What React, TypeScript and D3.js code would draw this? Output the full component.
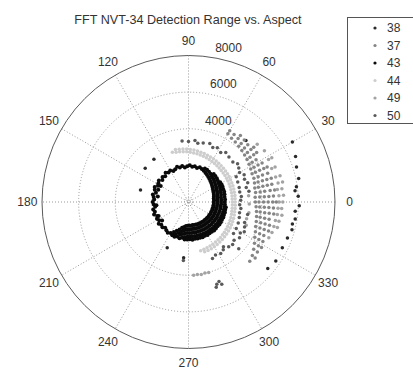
import React from 'react';
import * as d3 from 'd3';

// polar scatter, angle in degrees (0 = right, counter-clockwise), range in yards
// rows are [angle, range, range, ...]
const s38Rows = [
  [30, 6550], [23, 6350], [18, 6200], [12, 6150], [8, 5950], [6, 5850], [3, 6000],
  [-2, 6050], [-5, 5850], [-9, 5900], [-12, 5800], [-15, 5850], [-20, 5750],
  [-26, 5700], [-34, 5750], [-40, 5650], [129, 3000], [142, 3000], [166, 2700],
  [-115, 2750], [-95, 3050], [47, 4600],
];

const s37Rows = [
  [60, 4300, 4500], [56, 4200, 4450], [52, 4150, 4400, 4600], [48, 4100, 4300, 4550],
  [44, 4050, 4250, 4500], [40, 4000, 4200, 4450, 4650], [36, 3950, 4150, 4400, 4600],
  [32, 3900, 4100, 4350], [28, 3850, 4050, 4300, 4550], [24, 3800, 4000, 4250, 4500, 4700],
  [20, 3800, 4050, 4300, 4600], [16, 3750, 3950, 4200, 4450, 4700],
  [12, 3700, 3900, 4150, 4400, 4650], [8, 3700, 3950, 4200, 4500, 4750],
  [4, 3650, 3900, 4150, 4400, 4650], [0, 3650, 3850, 4100, 4350, 4600, 4800],
  [-4, 3700, 3900, 4150, 4400, 4650], [-8, 3750, 3950, 4200, 4450, 4700],
  [-12, 3800, 4000, 4250, 4500], [-16, 3850, 4100, 4350, 4600], [-20, 3900, 4150, 4400, 4650],
  [-24, 4000, 4250, 4500], [-28, 4100, 4350, 4600], [-32, 4250, 4500, 4700],
  [-36, 4400, 4650], [-40, 4550, 4750], [-44, 4650],
];

const s43Rows = [
  [68, 1950], [72, 2000], [76, 1920], [80, 1980], [84, 1940], [88, 2010], [92, 1960],
  [96, 1900], [100, 1990], [104, 1940], [108, 2020], [112, 1930], [116, 1880],
  [120, 1990], [124, 1950], [128, 2030], [132, 1900], [136, 1970], [140, 1860],
  [144, 2000], [148, 1940], [150, 1750], [152, 1890], [156, 2020], [158, 1780],
  [160, 1960], [164, 1850], [168, 1990], [170, 1700], [172, 1920], [176, 1880],
  [180, 1960], [184, 1900], [186, 1760], [188, 1840], [192, 1970], [196, 1910],
  [200, 2000], [204, 1870], [205, 1800], [208, 1950], [212, 1890], [215, 1760],
  [216, 2010], [220, 1940], [224, 1980], [228, 1900], [232, 1960], [236, 2030],
  [240, 1950], [244, 1990],
  [-116, 1820, 2020], [-112, 1700, 1880, 2040], [-108, 1580, 1780, 1980],
  [-104, 1450, 1650, 1850, 2040], [-100, 1380, 1580, 1780, 1980],
  [-96, 1320, 1520, 1720, 1920, 2060], [-92, 1300, 1500, 1700, 1900, 2050],
  [-88, 1290, 1490, 1690, 1890, 2040], [-84, 1300, 1500, 1700, 1900, 2070],
  [-80, 1280, 1480, 1680, 1880, 2040], [-76, 1300, 1500, 1700, 1900, 2060],
  [-72, 1290, 1490, 1690, 1890, 2050], [-68, 1310, 1510, 1710, 1910, 2070],
  [-64, 1300, 1500, 1700, 1900, 2050], [-60, 1320, 1520, 1720, 1920, 2080],
  [-56, 1310, 1510, 1710, 1910, 2060], [-52, 1330, 1530, 1730, 1930, 2070],
  [-48, 1320, 1520, 1720, 1920, 2090], [-44, 1340, 1540, 1740, 1940, 2080],
  [-40, 1330, 1530, 1730, 1930, 2070], [-36, 1350, 1550, 1750, 1950, 2090],
  [-32, 1340, 1540, 1740, 1940, 2080], [-28, 1360, 1560, 1760, 1960, 2070],
  [-24, 1350, 1550, 1750, 1950, 2080], [-20, 1370, 1570, 1770, 1970, 2060],
  [-16, 1360, 1560, 1760, 1960, 2070], [-12, 1380, 1580, 1780, 1980, 2050],
  [-8, 1370, 1570, 1770, 1970, 2060], [-4, 1390, 1590, 1790, 1990],
  [0, 1380, 1580, 1780, 1980], [4, 1400, 1600, 1800, 2000], [8, 1390, 1590, 1790, 1990],
  [12, 1420, 1620, 1820, 2010], [16, 1440, 1640, 1840, 2030], [20, 1460, 1660, 1860, 2020],
  [24, 1480, 1680, 1880, 2040], [28, 1510, 1710, 1910, 2050], [32, 1540, 1740, 1940, 2040],
  [36, 1580, 1780, 1980], [40, 1620, 1820, 2020], [44, 1660, 1860, 2040],
  [48, 1700, 1900, 2060], [52, 1750, 1950], [56, 1800, 2000], [60, 1850, 2030],
  [64, 1900, 2040],
];

const s44Rows = [
  [108, 2850], [104, 2800, 2950], [100, 2780, 2930], [96, 2760, 2910], [92, 2740, 2890],
  [88, 2720, 2870], [84, 2690, 2850], [80, 2670, 2830], [76, 2640, 2800],
  [72, 2620, 2780], [68, 2600, 2760], [64, 2580, 2740], [60, 2560, 2720],
  [56, 2540, 2700], [52, 2520, 2680], [48, 2500, 2660], [44, 2480, 2650],
  [40, 2470, 2640], [36, 2460, 2630], [32, 2450, 2620], [28, 2440, 2600],
  [24, 2430, 2590], [20, 2420, 2580], [16, 2410, 2570], [12, 2400, 2560],
  [8, 2400, 2560], [4, 2390, 2550], [0, 2400, 2550], [-4, 2400, 2560],
  [-8, 2410, 2570], [-12, 2420, 2580], [-16, 2440, 2600], [-20, 2460, 2620],
  [-24, 2480, 2640], [-28, 2500, 2660], [-32, 2520, 2680], [-36, 2540, 2700],
  [-40, 2560, 2720], [-44, 2580, 2740], [-48, 2600, 2760], [-52, 2620, 2780],
  [-56, 2640, 2800], [-60, 2660, 2820], [-64, 2680, 2840], [-68, 2700, 2850],
  [-72, 2720, 2860], [-76, 2750],
];

const s49Rows = [
  [40, 4900], [34, 5000], [28, 4950, 5150], [22, 4900, 5100], [16, 4950, 5200],
  [12, 5000, 5250], [8, 4900, 5150], [4, 4950, 5200], [0, 4950, 5150], [-4, 4900, 5100],
  [-8, 4900, 5150], [-12, 4850, 5050], [-16, 4850, 5050], [-20, 4850], [-24, 4800],
  [6, 3300], [-2, 3320], [-10, 3350], [-16, 3300], [-22, 3400],
  [-74, 4000], [-77, 3980], [-80, 4020], [-83, 3990], [-86, 4010],
];

const s50Rows = [
  [96, 3350], [90, 3300], [84, 3380], [81, 3250], [76, 3320], [70, 3400], [66, 3260],
  [62, 3350], [57, 3230], [53, 3380], [48, 3300], [42, 3260], [38, 3400], [34, 3310],
  [30, 3220], [26, 3380], [22, 3300], [18, 3400], [14, 3250], [10, 3350],
  [-12, 3300], [-20, 3260], [-24, 3350], [-28, 3450], [-31, 3300], [-35, 3400],
  [-40, 3250], [-43, 3750], [-44, 3350], [-48, 3280], [-52, 3100], [-54, 3230],
  [-58, 3320], [-63, 3250], [-67, 3350], [-69, 4650], [-71, 4750], [-68, 4850],
  [-72, 4900], [-95, 3200],
  [28, 2950], [22, 2900], [16, 2880], [11, 2850], [6, 2900], [2, 2850], [-3, 2800],
  [-7, 2880], [-12, 2850], [-17, 2900], [-23, 2950], [-29, 2980], [-35, 3000],
];

const seriesNames = ['38', '37', '43', '44', '49', '50'];
const seriesColors = ['#2a2a2a', '#858585', '#0a0a0a', '#cdcdcd', '#a3a3a3', '#5a5a5a'];
const seriesRows = [s38Rows, s37Rows, s43Rows, s44Rows, s49Rows, s50Rows];

const rangeTicks = [2000, 4000, 6000, 8000];
const rangeLabels = [4000, 6000, 8000];
const angleTicks = [0, 30, 60, 90, 120, 150, 180, 210, 240, 270, 300, 330];

const cx = 188.5;
const cy = 202;
const rMax = 146.5;
const font = '"Liberation Sans", Arial, sans-serif';

const App = () => {
  const r = d3.scaleLinear().domain([0, 8000]).range([0, rMax]);
  const rad = (deg: number) => (deg * Math.PI) / 180;
  const px = (a: number, v: number) => cx + r(v) * Math.cos(rad(a));
  const py = (a: number, v: number) => cy - r(v) * Math.sin(rad(a));

  const series = seriesRows.map((rows) =>
    rows.flatMap(([a, ...vals]) => vals.map((v) => [a, v]))
  );

  return (
    <svg width={413} height={370} style={{ position: 'absolute', left: 0, top: 0, background: '#fff' }}
      fontFamily={font}>
      <text x={188} y={24} textAnchor="middle" fontSize={12.6} fill="#333">
        FFT NVT-34 Detection Range vs. Aspect
      </text>

      {/* grid */}
      <circle cx={cx} cy={cy} r={4} fill="none" stroke="#999" strokeDasharray="1,2" />
      {rangeTicks.slice(0, -1).map((t) => (
        <circle key={t} cx={cx} cy={cy} r={r(t)} fill="none" stroke="#999" strokeDasharray="1,2" />
      ))}
      {angleTicks.slice(0, 6).map((a) => (
        <line key={a} x1={px(a, 8000)} y1={py(a, 8000)} x2={px(a + 180, 8000)} y2={py(a + 180, 8000)}
          stroke="#999" strokeDasharray="1,2" />
      ))}
      <circle cx={cx} cy={cy} r={rMax} fill="none" stroke="#5a5a5a" strokeWidth={1} />

      {angleTicks.map((a) => (
        <text key={a} x={px(a, 8000 * 1.1)} y={py(a, 8000 * 1.1)} textAnchor="middle"
          dominantBaseline="central" fontSize={12} fill="#333">{a}</text>
      ))}
      {rangeLabels.map((t) => (
        <text key={t} x={px(82, t + 100) + 6} y={py(82, t + 100) - 3} fontSize={12} fill="#333">{t}</text>
      ))}

      {/* data */}
      {series.map((pts, i) => (
        <g key={seriesNames[i]} fill={seriesColors[i]}>
          {pts.map(([a, v], j) => (
            <circle key={j} cx={px(a, v)} cy={py(a, v)} r={i === 2 ? 2 : 1.75} />
          ))}
        </g>
      ))}

      {/* legend */}
      <rect x={347.5} y={17.5} width={80} height={106} fill="#fff" stroke="#555" />
      {seriesNames.map((name, i) => (
        <g key={name}>
          <circle cx={375} cy={28 + i * 17.5} r={1.6} fill={seriesColors[i]} />
          <text x={387} y={28 + i * 17.5} dominantBaseline="central" fontSize={12} fill="#333">{name}</text>
        </g>
      ))}
    </svg>
  );
};

export default App;
